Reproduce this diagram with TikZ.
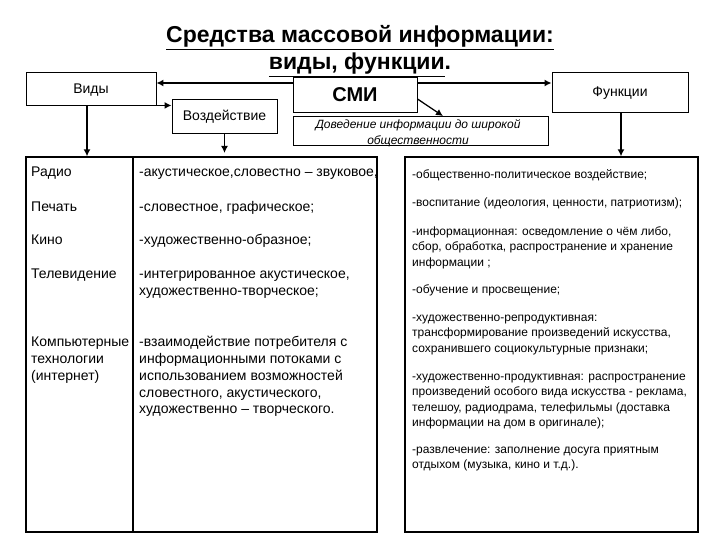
\documentclass[tikz,border=0pt]{standalone}
\usepackage{fontspec}
\setmainfont{Liberation Sans}
\usetikzlibrary{arrows.meta}
\newcommand{\lst}{\rule{0pt}{11pt}}
\newcommand{\rst}{\rule{0pt}{10pt}}
\tikzset{
  box/.style={draw, line width=0.9pt, inner sep=0pt, text height=10pt, text depth=0pt, font=\fontsize{14}{16}\selectfont},
  tab/.style={draw, line width=1.3pt, inner sep=0pt},
  arr/.style={line width=1.7pt, -{Latex[length=7pt,width=7pt]}},
  ltxt/.style={anchor=north west, inner sep=0pt, align=left, font=\fontsize{14}{16.75}\selectfont},
  rtxt/.style={anchor=north west, inner sep=0pt, align=left, font=\fontsize{12}{15.5}\selectfont},
}
\begin{document}
\begin{tikzpicture}[x=1pt,y=-1pt]
\useasboundingbox (0,0) rectangle (720,540);
% title
\node[align=center, inner sep=0pt, font=\fontsize{23}{27}\selectfont\bfseries] (title) at (360,51)
  {\underline{Средства массовой информации:}\\\underline{виды, функции}.};
% boxes
\node[box, minimum width=130pt, minimum height=33pt] (vidy) at (91,88.5) {Виды};
\node[box, minimum width=124pt, minimum height=35pt, text height=14.5pt, font=\fontsize{20}{24}\selectfont\bfseries] (smi) at (355,94.5) {СМИ};
\node[box, minimum width=136pt, minimum height=40pt] (func) at (620,92) {Функции};
\node[box, minimum width=105pt, minimum height=34pt] (vozd) at (224.5,116) {Воздействие};
\node[box, minimum width=255pt, minimum height=29pt] (dov) at (420.5,131) {};
\node[anchor=north, inner sep=0pt, align=center, font=\fontsize{12}{16}\selectfont\itshape] (dovt) at (418,118.5)
  {\rst Доведение информации до широкой\\общественности};
% tables
\node[tab, minimum width=351pt, minimum height=375pt] (ltab) at (201.5,344.5) {};
\node[tab, minimum width=293pt, minimum height=375pt] (rtab) at (551.5,344.5) {};
\coordinate (dtop) at (133,157);
\coordinate (dbot) at (133,532);
\draw[line width=1.1pt] (dtop) -- (dbot);
% arrows
\draw[arr] ([yshift=11.5pt]smi.west) -- ([yshift=11.5pt]smi.west -| vidy.east);
\draw[arr] ([yshift=11.5pt]smi.east) -- ([yshift=11.5pt]smi.east -| func.west);
\draw[arr] (vidy.south east) -- (vidy.south east -| vozd.west);
\draw[arr, line width=1.3pt] ([yshift=-4.5pt]smi.east) -- ([xshift=22.5pt]dov.north);
\draw[arr] ([xshift=-4pt]vidy.south) -- ([xshift=-4pt]vidy.south |- ltab.north);
\coordinate (vz) at (224.5,153);
\draw[arr] (vozd.south) -- (vz);
\draw[arr] ([xshift=1pt]func.south) -- ([xshift=1pt]func.south |- rtab.north);
% left table text
\node[ltxt] (r1) at (31,165.6) {\lst Радио};
\node[ltxt] (r2) at (31,200.6) {\lst Печать};
\node[ltxt] (r3) at (31,233.6) {\lst Кино};
\node[ltxt] (r4) at (31,267.6) {\lst Телевидение};
\node[ltxt] (r5) at (31,335.6) {\lst Компьютерные\\технологии\\(интернет)};
\node[ltxt] (d1) at (139,165.6) {\lst -акустическое,словестно – звуковое,};
\node[ltxt] (d2) at (139,200.6) {\lst -словестное, графическое;};
\node[ltxt] (d3) at (139,233.6) {\lst -художественно-образное;};
\node[ltxt] (d4) at (139,267.6) {\lst -интегрированное акустическое,\\художественно-творческое;};
\node[ltxt] (d5) at (139,335.6) {\lst -взаимодействие потребителя с\\информационными потоками с\\использованием возможностей\\словестного, акустического,\\художественно – творческого.};
% right table text
\node[rtxt] (f1) at (412,168.1) {\rst -общественно-политическое воздействие;};
\node[rtxt] (f2) at (412,196.1) {\rst -воспитание (идеология, ценности, патриотизм);};
\node[rtxt] (f3) at (412,225.1) {\rst -информационная: осведомление о чём либо,\\сбор, обработка, распространение и хранение\\информации ;};
\node[rtxt] (f4) at (412,283.1) {\rst -обучение и просвещение;};
\node[rtxt] (f5) at (412,311.1) {\rst -художественно-репродуктивная:\\трансформирование произведений искусства,\\сохранившего социокультурные признаки;};
\node[rtxt] (f6) at (412,370.1) {\rst -художественно-продуктивная: распространение\\произведений особого вида искусства - реклама,\\телешоу, радиодрама, телефильмы (доставка\\информации на дом в оригинале);};
\node[rtxt] (f7) at (412,443.1) {\rst -развлечение: заполнение досуга приятным\\отдыхом (музыка, кино и т.д.).};
\end{tikzpicture}
\end{document}
